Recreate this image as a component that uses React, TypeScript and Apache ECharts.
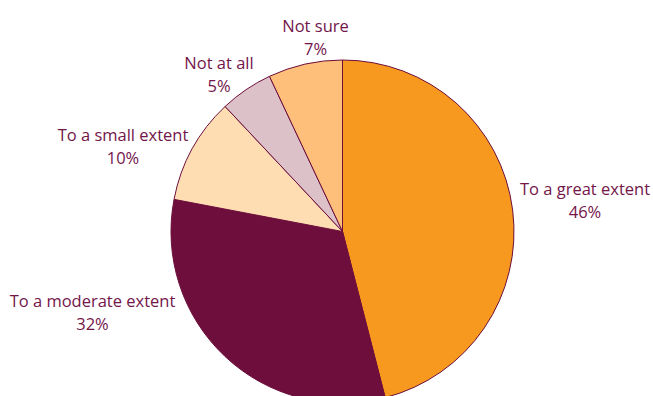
import React, { useEffect, useRef } from "react";
import * as echarts from "echarts";

const categories = ["To a great extent", "To a moderate extent", "To a small extent", "Not at all", "Not sure"];
const values = [46, 32, 10, 5, 7];
const colors = ["#F7991E", "#6E0E3C", "#FEDDB3", "#DDC1C9", "#FDBF7A"];
// label block centres (pixels) for each slice
const labelCentres: [number, number][] = [
  [585, 200],
  [92.5, 311.5],
  [123, 146],
  [219, 73.5],
  [315.5, 36.5],
];

export default function App() {
  const ref = useRef<HTMLDivElement>(null);
  useEffect(() => {
    const chart = echarts.init(ref.current!, null, { renderer: "svg" });
    chart.setOption({
      animation: false,
      backgroundColor: "#ffffff",
      series: [
        {
          type: "pie",
          center: [342.5, 231.5],
          radius: 171.5,
          startAngle: 90,
          clockwise: true,
          avoidLabelOverlap: false,
          data: categories.map((c, i) => ({
            name: c,
            value: values[i],
            itemStyle: { color: colors[i] },
          })),
          itemStyle: { borderColor: "#6E0E3C", borderWidth: 1 },
          label: {
            show: true,
            position: "outside",
            formatter: (p: any) => `${p.name}\n${p.value}%`,
            color: "#73164A",
            fontFamily: "Open Sans",
            fontSize: 16.5,
            lineHeight: 23,
            align: "center",
          },
          labelLine: { show: false },
          labelLayout: (p: any) => {
            const [x, y] = labelCentres[p.dataIndex];
            return { x, y, align: "center", verticalAlign: "middle" };
          },
          emphasis: { disabled: true },
        },
      ],
    });
    return () => chart.dispose();
  }, []);
  return <div ref={ref} style={{ position: "fixed", left: 0, top: 0, width: 653, height: 396 }} />;
}
